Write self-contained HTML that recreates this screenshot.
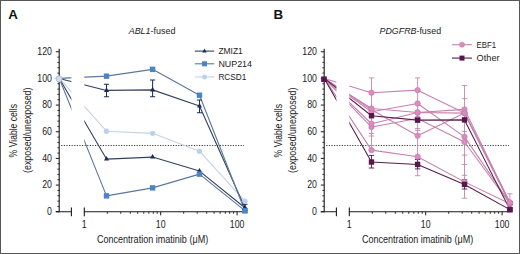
<!DOCTYPE html><html><head><meta charset="utf-8"><style>html,body{margin:0;padding:0;background:#fff;}svg{display:block;}</style></head><body>
<svg width="520" height="254" viewBox="0 0 520 254" font-family='"Liberation Sans", sans-serif'>
<defs>
<clipPath id="clipA"><rect x="0" y="0" width="71.4" height="254"/><rect x="84.3" y="0" width="175.7" height="254"/></clipPath>
<clipPath id="clipB"><rect x="260" y="0" width="76.4" height="254"/><rect x="349.3" y="0" width="170.7" height="254"/></clipPath>
</defs>
<rect width="520" height="254" fill="#fff"/>
<path d="M59.2 48.8V212.25" stroke="#1a1a1a" stroke-width="1.1" fill="none"/><path d="M55.8 211.75H59.2M55.8 185.08H59.2M55.8 158.42H59.2M55.8 131.75H59.2M55.8 105.09H59.2M55.8 78.42H59.2M55.8 51.75H59.2" stroke="#1a1a1a" stroke-width="1" fill="none"/><path d="M57.4 206.42H59.2M57.4 201.08H59.2M57.4 195.75H59.2M57.4 190.42H59.2M57.4 179.75H59.2M57.4 174.42H59.2M57.4 169.08H59.2M57.4 163.75H59.2M57.4 153.08H59.2M57.4 147.75H59.2M57.4 142.42H59.2M57.4 137.09H59.2M57.4 126.42H59.2M57.4 121.09H59.2M57.4 115.75H59.2M57.4 110.42H59.2M57.4 99.75H59.2M57.4 94.42H59.2M57.4 89.09H59.2M57.4 83.75H59.2M57.4 73.09H59.2M57.4 67.75H59.2M57.4 62.42H59.2M57.4 57.09H59.2" stroke="#1a1a1a" stroke-width="0.9" fill="none"/><text transform="translate(52 215.05) scale(0.87 1)" text-anchor="end" font-size="10.1" fill="#222">0</text><text transform="translate(52 188.38) scale(0.87 1)" text-anchor="end" font-size="10.1" fill="#222">20</text><text transform="translate(52 161.72) scale(0.87 1)" text-anchor="end" font-size="10.1" fill="#222">40</text><text transform="translate(52 135.05) scale(0.87 1)" text-anchor="end" font-size="10.1" fill="#222">60</text><text transform="translate(52 108.39) scale(0.87 1)" text-anchor="end" font-size="10.1" fill="#222">80</text><text transform="translate(52 81.72) scale(0.87 1)" text-anchor="end" font-size="10.1" fill="#222">100</text><text transform="translate(52 55.05) scale(0.87 1)" text-anchor="end" font-size="10.1" fill="#222">120</text><path d="M55.8 211.75H71.4M71.4 207.55V216.15M84.3 207.55V216.15M84.3 211.75H243" stroke="#1a1a1a" stroke-width="1.1" fill="none"/><path d="M107.3 211.75V213.75M120.75 211.75V213.75M130.3 211.75V213.75M137.7 211.75V213.75M143.75 211.75V213.75M148.87 211.75V213.75M153.3 211.75V213.75M157.2 211.75V213.75M183.7 211.75V213.75M197.15 211.75V213.75M206.7 211.75V213.75M214.1 211.75V213.75M220.15 211.75V213.75M225.27 211.75V213.75M229.7 211.75V213.75M233.6 211.75V213.75" stroke="#1a1a1a" stroke-width="0.9" fill="none"/><path d="M160.7 211.75V215.35M237.1 211.75V215.35" stroke="#1a1a1a" stroke-width="1" fill="none"/><text transform="translate(84.3 228) scale(0.87 1)" text-anchor="middle" font-size="10.1" fill="#222">1</text><text transform="translate(160.7 228) scale(0.87 1)" text-anchor="middle" font-size="10.1" fill="#222">10</text><text transform="translate(237.1 228) scale(0.87 1)" text-anchor="middle" font-size="10.1" fill="#222">100</text><text x="96.9" y="243.1" font-size="10.6" fill="#222" textLength="111.3" lengthAdjust="spacingAndGlyphs">Concentration imatinib (μM)</text><text transform="translate(16.9 157.4) rotate(-90)" font-size="10.6" fill="#222" textLength="53.4" lengthAdjust="spacingAndGlyphs">% Viable cells</text><text transform="translate(31 173) rotate(-90)" font-size="10.6" fill="#222" textLength="85.5" lengthAdjust="spacingAndGlyphs">(exposed/unexposed)</text><path d="M61.2 145.5H244" stroke="#3c3c3c" stroke-width="1" stroke-dasharray="1.2 1.4" fill="none"/>
<path d="M59.3 78.42 L106.5 131.22 L152.6 133.35 L199.5 151.22 L244.9 201.08" stroke="#c6d3e3" stroke-width="1.1" fill="none" stroke-linejoin="round" clip-path="url(#clipA)"/><path d="M59.3 78.42 L106.5 159.08 L152.6 157.08 L199.5 171.08 L244.9 207.75" stroke="#34405e" stroke-width="1.1" fill="none" stroke-linejoin="round" clip-path="url(#clipA)"/><path d="M59.3 78.42 L106.5 90.42 L152.6 89.89 L199.5 106.02 L244.9 207.75" stroke="#34405e" stroke-width="1.1" fill="none" stroke-linejoin="round" clip-path="url(#clipA)"/><path d="M59.3 78.42 L106.5 195.88 L152.6 187.88 L199.5 174.15 L244.9 210.68" stroke="#5c779c" stroke-width="1.1" fill="none" stroke-linejoin="round" clip-path="url(#clipA)"/><path d="M59.3 78.42 L106.5 76.15 L152.6 69.35 L199.5 95.22 L244.9 210.68" stroke="#5c779c" stroke-width="1.1" fill="none" stroke-linejoin="round" clip-path="url(#clipA)"/>
<path d="M106.5 84.29V96.82M103.9 84.29H109.1M103.9 96.82H109.1" stroke="#1f2f55" stroke-width="1.05" fill="none"/><path d="M152.6 80.02V96.82M150 80.02H155.2M150 96.82H155.2" stroke="#1f2f55" stroke-width="1.05" fill="none"/><path d="M199.5 100.02V112.69M196.9 100.02H202.1M196.9 112.69H202.1" stroke="#1f2f55" stroke-width="1.05" fill="none"/><path d="M244.9 204.15V211.08M242.3 204.15H247.5M242.3 211.08H247.5" stroke="#1f2f55" stroke-width="1.05" fill="none"/>
<circle cx="106.5" cy="131.22" r="2.7" fill="#bcd2ec"/><circle cx="152.6" cy="133.35" r="2.7" fill="#bcd2ec"/><circle cx="199.5" cy="151.22" r="2.7" fill="#bcd2ec"/><circle cx="244.9" cy="201.08" r="2.7" fill="#bcd2ec"/><path d="M103.94 160.61 L109.06 160.61 L106.5 156.02Z" fill="#1a2d57"/><path d="M150.03 158.61 L155.16 158.61 L152.6 154.02Z" fill="#1a2d57"/><path d="M196.94 172.61 L202.06 172.61 L199.5 168.02Z" fill="#1a2d57"/><path d="M242.34 209.28 L247.47 209.28 L244.9 204.69Z" fill="#1a2d57"/><path d="M103.94 91.95 L109.06 91.95 L106.5 87.36Z" fill="#1a2d57"/><path d="M150.03 91.42 L155.16 91.42 L152.6 86.83Z" fill="#1a2d57"/><path d="M196.94 107.55 L202.06 107.55 L199.5 102.96Z" fill="#1a2d57"/><path d="M242.34 209.28 L247.47 209.28 L244.9 204.69Z" fill="#1a2d57"/><rect x="103.8" y="193.18" width="5.4" height="5.4" fill="#4a84c6"/><rect x="149.9" y="185.18" width="5.4" height="5.4" fill="#4a84c6"/><rect x="196.8" y="171.45" width="5.4" height="5.4" fill="#4a84c6"/><rect x="242.2" y="207.98" width="5.4" height="5.4" fill="#4a84c6"/><rect x="103.8" y="73.45" width="5.4" height="5.4" fill="#4a84c6"/><rect x="149.9" y="66.65" width="5.4" height="5.4" fill="#4a84c6"/><rect x="196.8" y="92.52" width="5.4" height="5.4" fill="#4a84c6"/><rect x="242.2" y="207.98" width="5.4" height="5.4" fill="#4a84c6"/>
<circle cx="59.1" cy="78.92" r="3.1" fill="#cddcef" stroke="#97abc7" stroke-width="0.6"/>
<text x="128.7" y="33.5" font-size="9.4" fill="#222" textLength="46.7" lengthAdjust="spacingAndGlyphs"><tspan font-style="italic">ABL1</tspan>-fused</text>
<text x="8.3" y="18.9" font-size="13.3" font-weight="bold" fill="#111">A</text>
<path d="M324.2 48.8V212.25" stroke="#1a1a1a" stroke-width="1.1" fill="none"/><path d="M320.8 211.75H324.2M320.8 185.08H324.2M320.8 158.42H324.2M320.8 131.75H324.2M320.8 105.09H324.2M320.8 78.42H324.2M320.8 51.75H324.2" stroke="#1a1a1a" stroke-width="1" fill="none"/><path d="M322.4 206.42H324.2M322.4 201.08H324.2M322.4 195.75H324.2M322.4 190.42H324.2M322.4 179.75H324.2M322.4 174.42H324.2M322.4 169.08H324.2M322.4 163.75H324.2M322.4 153.08H324.2M322.4 147.75H324.2M322.4 142.42H324.2M322.4 137.09H324.2M322.4 126.42H324.2M322.4 121.09H324.2M322.4 115.75H324.2M322.4 110.42H324.2M322.4 99.75H324.2M322.4 94.42H324.2M322.4 89.09H324.2M322.4 83.75H324.2M322.4 73.09H324.2M322.4 67.75H324.2M322.4 62.42H324.2M322.4 57.09H324.2" stroke="#1a1a1a" stroke-width="0.9" fill="none"/><text transform="translate(317 215.05) scale(0.87 1)" text-anchor="end" font-size="10.1" fill="#222">0</text><text transform="translate(317 188.38) scale(0.87 1)" text-anchor="end" font-size="10.1" fill="#222">20</text><text transform="translate(317 161.72) scale(0.87 1)" text-anchor="end" font-size="10.1" fill="#222">40</text><text transform="translate(317 135.05) scale(0.87 1)" text-anchor="end" font-size="10.1" fill="#222">60</text><text transform="translate(317 108.39) scale(0.87 1)" text-anchor="end" font-size="10.1" fill="#222">80</text><text transform="translate(317 81.72) scale(0.87 1)" text-anchor="end" font-size="10.1" fill="#222">100</text><text transform="translate(317 55.05) scale(0.87 1)" text-anchor="end" font-size="10.1" fill="#222">120</text><path d="M320.8 211.75H336.4M336.4 207.55V216.15M349.3 207.55V216.15M349.3 211.75H508" stroke="#1a1a1a" stroke-width="1.1" fill="none"/><path d="M372.3 211.75V213.75M385.75 211.75V213.75M395.3 211.75V213.75M402.7 211.75V213.75M408.75 211.75V213.75M413.87 211.75V213.75M418.3 211.75V213.75M422.2 211.75V213.75M448.7 211.75V213.75M462.15 211.75V213.75M471.7 211.75V213.75M479.1 211.75V213.75M485.15 211.75V213.75M490.27 211.75V213.75M494.7 211.75V213.75M498.6 211.75V213.75" stroke="#1a1a1a" stroke-width="0.9" fill="none"/><path d="M425.7 211.75V215.35M502.1 211.75V215.35" stroke="#1a1a1a" stroke-width="1" fill="none"/><text transform="translate(349.3 228) scale(0.87 1)" text-anchor="middle" font-size="10.1" fill="#222">1</text><text transform="translate(425.7 228) scale(0.87 1)" text-anchor="middle" font-size="10.1" fill="#222">10</text><text transform="translate(502.1 228) scale(0.87 1)" text-anchor="middle" font-size="10.1" fill="#222">100</text><text x="361.9" y="243.1" font-size="10.6" fill="#222" textLength="111.3" lengthAdjust="spacingAndGlyphs">Concentration imatinib (μM)</text><text transform="translate(281.9 157.4) rotate(-90)" font-size="10.6" fill="#222" textLength="53.4" lengthAdjust="spacingAndGlyphs">% Viable cells</text><text transform="translate(296 173) rotate(-90)" font-size="10.6" fill="#222" textLength="85.5" lengthAdjust="spacingAndGlyphs">(exposed/unexposed)</text><path d="M326.2 145.5H509" stroke="#3c3c3c" stroke-width="1" stroke-dasharray="1.2 1.4" fill="none"/>
<path d="M324.3 78.42 L371.5 150.15 L417.6 156.68 L464.5 181.88 L509.9 203.75" stroke="#c682af" stroke-width="1.08" fill="none" stroke-linejoin="round" clip-path="url(#clipB)"/><path d="M324.3 78.42 L371.5 127.09 L417.6 118.42 L464.5 142.02 L509.9 203.75" stroke="#c682af" stroke-width="1.08" fill="none" stroke-linejoin="round" clip-path="url(#clipB)"/><path d="M324.3 78.42 L371.5 123.75 L417.6 112.55 L464.5 113.09 L509.9 203.08" stroke="#c682af" stroke-width="1.08" fill="none" stroke-linejoin="round" clip-path="url(#clipB)"/><path d="M324.3 78.42 L371.5 109.75 L417.6 135.75 L464.5 113.09 L509.9 203.75" stroke="#c682af" stroke-width="1.08" fill="none" stroke-linejoin="round" clip-path="url(#clipB)"/><path d="M324.3 78.42 L371.5 111.75 L417.6 103.49 L464.5 136.82 L509.9 203.08" stroke="#c682af" stroke-width="1.08" fill="none" stroke-linejoin="round" clip-path="url(#clipB)"/><path d="M324.3 78.42 L371.5 108.42 L417.6 112.55 L464.5 109.35 L509.9 202.68" stroke="#c682af" stroke-width="1.08" fill="none" stroke-linejoin="round" clip-path="url(#clipB)"/><path d="M324.3 78.42 L371.5 92.69 L417.6 90.15 L464.5 113.09 L509.9 202.42" stroke="#c682af" stroke-width="1.08" fill="none" stroke-linejoin="round" clip-path="url(#clipB)"/><path d="M324.3 78.42 L371.5 162.02 L417.6 164.42 L464.5 184.42 L509.9 209.62" stroke="#56204b" stroke-width="1.08" fill="none" stroke-linejoin="round" clip-path="url(#clipB)"/><path d="M324.3 78.42 L371.5 115.75 L417.6 120.15 L464.5 119.89 L509.9 209.62" stroke="#56204b" stroke-width="1.08" fill="none" stroke-linejoin="round" clip-path="url(#clipB)"/>

<path d="M371.5 77.9V150M368.8 77.9H374.2M368.8 133.4H374.2M368.8 136H374.2M368.8 145.5H374.2" stroke="#c486ad" stroke-width="0.9" fill="none"/><path d="M417.6 77.9V175.7M414.9 77.9H420.3M414.9 128.6H420.3M414.9 130.4H420.3M414.9 175.7H420.3" stroke="#c486ad" stroke-width="0.9" fill="none"/><path d="M464.5 85.5V198.2M461.8 85.5H467.2M461.8 98.7H467.2M461.8 131.4H467.2M461.8 155.1H467.2M461.8 164.4H467.2M461.8 175.3H467.2M461.8 198.2H467.2" stroke="#c486ad" stroke-width="0.9" fill="none"/><path d="M509.9 193.8V203M507.2 193.8H512.6" stroke="#c486ad" stroke-width="0.9" fill="none"/><path d="M371.5 155.4V168M368.8 155.4H374.2M368.8 168H374.2" stroke="#58164a" stroke-width="0.9" fill="none"/><path d="M417.6 159.5V168.9M414.9 159.5H420.3M414.9 168.9H420.3" stroke="#58164a" stroke-width="0.9" fill="none"/><path d="M464.5 179.8V189M461.8 179.8H467.2M461.8 189H467.2" stroke="#58164a" stroke-width="0.9" fill="none"/>
<circle cx="371.5" cy="150.15" r="2.7" fill="#db8dbf" stroke="#c272a5" stroke-width="0.6"/><circle cx="417.6" cy="156.68" r="2.7" fill="#db8dbf" stroke="#c272a5" stroke-width="0.6"/><circle cx="464.5" cy="181.88" r="2.7" fill="#db8dbf" stroke="#c272a5" stroke-width="0.6"/><circle cx="509.9" cy="203.75" r="2.7" fill="#db8dbf" stroke="#c272a5" stroke-width="0.6"/><circle cx="371.5" cy="127.09" r="2.7" fill="#db8dbf" stroke="#c272a5" stroke-width="0.6"/><circle cx="417.6" cy="118.42" r="2.7" fill="#db8dbf" stroke="#c272a5" stroke-width="0.6"/><circle cx="464.5" cy="142.02" r="2.7" fill="#db8dbf" stroke="#c272a5" stroke-width="0.6"/><circle cx="509.9" cy="203.75" r="2.7" fill="#db8dbf" stroke="#c272a5" stroke-width="0.6"/><circle cx="371.5" cy="123.75" r="2.7" fill="#db8dbf" stroke="#c272a5" stroke-width="0.6"/><circle cx="417.6" cy="112.55" r="2.7" fill="#db8dbf" stroke="#c272a5" stroke-width="0.6"/><circle cx="464.5" cy="113.09" r="2.7" fill="#db8dbf" stroke="#c272a5" stroke-width="0.6"/><circle cx="509.9" cy="203.08" r="2.7" fill="#db8dbf" stroke="#c272a5" stroke-width="0.6"/><circle cx="371.5" cy="109.75" r="2.7" fill="#db8dbf" stroke="#c272a5" stroke-width="0.6"/><circle cx="417.6" cy="135.75" r="2.7" fill="#db8dbf" stroke="#c272a5" stroke-width="0.6"/><circle cx="464.5" cy="113.09" r="2.7" fill="#db8dbf" stroke="#c272a5" stroke-width="0.6"/><circle cx="509.9" cy="203.75" r="2.7" fill="#db8dbf" stroke="#c272a5" stroke-width="0.6"/><circle cx="371.5" cy="111.75" r="2.7" fill="#db8dbf" stroke="#c272a5" stroke-width="0.6"/><circle cx="417.6" cy="103.49" r="2.7" fill="#db8dbf" stroke="#c272a5" stroke-width="0.6"/><circle cx="464.5" cy="136.82" r="2.7" fill="#db8dbf" stroke="#c272a5" stroke-width="0.6"/><circle cx="509.9" cy="203.08" r="2.7" fill="#db8dbf" stroke="#c272a5" stroke-width="0.6"/><circle cx="371.5" cy="108.42" r="2.7" fill="#db8dbf" stroke="#c272a5" stroke-width="0.6"/><circle cx="417.6" cy="112.55" r="2.7" fill="#db8dbf" stroke="#c272a5" stroke-width="0.6"/><circle cx="464.5" cy="109.35" r="2.7" fill="#db8dbf" stroke="#c272a5" stroke-width="0.6"/><circle cx="509.9" cy="202.68" r="2.7" fill="#db8dbf" stroke="#c272a5" stroke-width="0.6"/><circle cx="371.5" cy="92.69" r="2.7" fill="#db8dbf" stroke="#c272a5" stroke-width="0.6"/><circle cx="417.6" cy="90.15" r="2.7" fill="#db8dbf" stroke="#c272a5" stroke-width="0.6"/><circle cx="464.5" cy="113.09" r="2.7" fill="#db8dbf" stroke="#c272a5" stroke-width="0.6"/><circle cx="509.9" cy="202.42" r="2.7" fill="#db8dbf" stroke="#c272a5" stroke-width="0.6"/><rect x="368.8" y="159.32" width="5.4" height="5.4" fill="#58164a"/><rect x="414.9" y="161.72" width="5.4" height="5.4" fill="#58164a"/><rect x="461.8" y="181.72" width="5.4" height="5.4" fill="#58164a"/><rect x="507.2" y="206.92" width="5.4" height="5.4" fill="#58164a"/><rect x="368.8" y="113.05" width="5.4" height="5.4" fill="#58164a"/><rect x="414.9" y="117.45" width="5.4" height="5.4" fill="#58164a"/><rect x="461.8" y="117.19" width="5.4" height="5.4" fill="#58164a"/><rect x="507.2" y="206.92" width="5.4" height="5.4" fill="#58164a"/>
<rect x="321.2" y="76.42" width="5.6" height="5.6" fill="#58164a"/>
<text x="379.5" y="33.5" font-size="9.4" fill="#222" textLength="61.6" lengthAdjust="spacingAndGlyphs"><tspan font-style="italic">PDGFRB</tspan>-fused</text>
<text x="273.5" y="18.9" font-size="13.3" font-weight="bold" fill="#111">B</text>
<path d="M194.8 51.1H214.2" stroke="#34405e" stroke-width="1.1"/><path d="M202.31 52.4 L206.69 52.4 L204.5 48.49Z" fill="#1a2d57"/><text x="218.4" y="54" font-size="9.9" fill="#222" textLength="24.4" lengthAdjust="spacingAndGlyphs">ZMIZ1</text>
<path d="M194.8 63.8H214.2" stroke="#5c779c" stroke-width="1.1"/><rect x="202" y="61.3" width="5" height="5" fill="#4a84c6"/><text x="218.4" y="66.7" font-size="9.9" fill="#222" textLength="33.6" lengthAdjust="spacingAndGlyphs">NUP214</text>
<path d="M194.8 76.9H214.2" stroke="#c6d3e3" stroke-width="1.1"/><circle cx="204.5" cy="76.9" r="2.5" fill="#bcd2ec"/><text x="218.4" y="79.8" font-size="9.9" fill="#222" textLength="28" lengthAdjust="spacingAndGlyphs">RCSD1</text>
<path d="M452 44.7H472" stroke="#c682af" stroke-width="1.1"/><circle cx="462" cy="44.7" r="2.5" fill="#db8dbf" stroke="#c272a5" stroke-width="0.6"/><text x="476.6" y="47.6" font-size="9.9" fill="#222" textLength="19.6" lengthAdjust="spacingAndGlyphs">EBF1</text>
<path d="M452 58.1H472" stroke="#56204b" stroke-width="1.1"/><rect x="459.5" y="55.6" width="5" height="5" fill="#58164a"/><text x="476.6" y="61" font-size="9.9" fill="#222" textLength="23" lengthAdjust="spacingAndGlyphs">Other</text>
<rect x="0.5" y="0.5" width="519" height="253" fill="none" stroke="#575757" stroke-width="1"/>
</svg></body></html>
